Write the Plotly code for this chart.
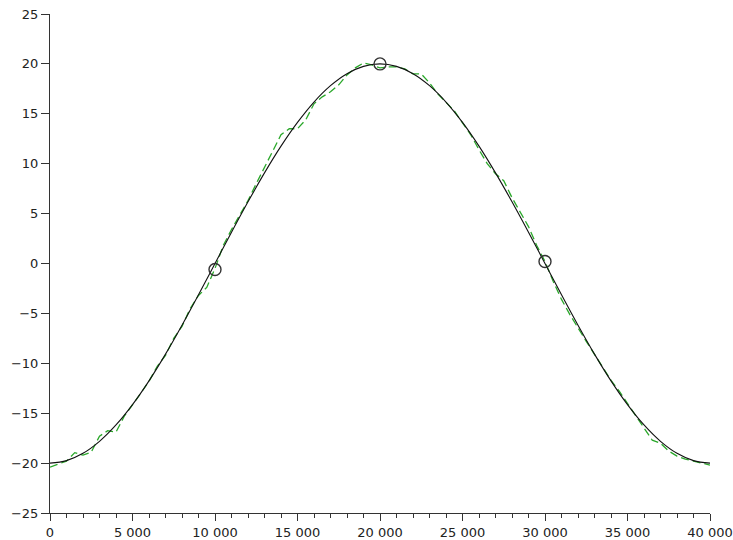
import plotly.graph_objects as go

# Smooth reference curve, sampled every 1000
x_smooth = list(range(0, 40001, 1000))
y_smooth = [-20.0, -19.75, -19.02, -17.82, -16.18, -14.14, -11.76, -9.08, -6.18, -3.13,
            0.0, 3.13, 6.18, 9.08, 11.76, 14.14, 16.18, 17.82, 19.02, 19.75,
            20.0, 19.75, 19.02, 17.82, 16.18, 14.14, 11.76, 9.08, 6.18, 3.13,
            0.0, -3.13, -6.18, -9.08, -11.76, -14.14, -16.18, -17.82, -19.02, -19.75,
            -20.0]

# Measured (noisy) curve, sampled every 500
x_meas = list(range(0, 40001, 500))
y_meas = [-20.4, -20.1, -19.8, -18.95, -19.2, -18.9, -17.3, -16.75, -16.9, -15.3,
          -14.2, -13.0, -11.8, -10.3, -9.2, -7.5, -6.3, -4.5, -3.2, -2.4,
          -0.5, 1.8, 3.4, 4.9, 6.3, 8.0, 9.6, 11.2, 12.9, 13.5,
          13.5, 14.4, 16.0, 16.7, 17.2, 17.9, 18.9, 19.6, 20.1, 19.9,
          19.6, 19.7, 19.7, 19.5, 19.0, 19.0, 18.1, 17.0, 16.1, 15.3,
          14.1, 12.9, 11.4, 10.0, 9.0, 8.3, 6.6, 5.1, 3.7, 1.8,
          0.2, -1.8, -3.6, -5.1, -6.5, -7.8, -9.1, -10.4, -11.7, -12.8,
          -14.0, -15.2, -16.4, -17.7, -18.0, -18.8, -19.3, -19.6, -19.8, -20.0,
          -20.2]

# Sample points marked with circles
x_pts = [10000, 20000, 30000]
y_pts = [-0.6, 20.0, 0.2]

fig = go.Figure()
fig.add_trace(go.Scatter(
    x=x_meas, y=y_meas, mode="lines",
    line=dict(color="#2aa82a", width=1.3, dash="8px,4px"),
    showlegend=False, hoverinfo="skip"))
fig.add_trace(go.Scatter(
    x=x_smooth, y=y_smooth, mode="lines",
    line=dict(color="#111111", width=1.1, shape="spline", smoothing=1.0),
    showlegend=False))
fig.add_trace(go.Scatter(
    x=x_pts, y=y_pts, mode="markers",
    marker=dict(symbol="circle-open", size=12, color="#333333", line=dict(width=1.4)),
    showlegend=False, cliponaxis=False))

axis_font = dict(family="DejaVu Sans", size=13, color="#222222")

fig.update_layout(
    width=733, height=540,
    margin=dict(l=50, r=23, t=14, b=27, autoexpand=False),
    paper_bgcolor="white", plot_bgcolor="white",
    separators=". ",
    xaxis=dict(
        range=[0, 40000], dtick=5000, tick0=0, tickformat=",d",
        automargin=False, ticklabeloverflow="allow",
        showgrid=False, zeroline=False,
        showline=True, linecolor="#333333", linewidth=1,
        ticks="outside", ticklen=7, tickwidth=1, tickcolor="#333333",
        minor=dict(dtick=1000, ticks="outside", ticklen=4, tickcolor="#333333", showgrid=False),
        tickfont=axis_font,
    ),
    yaxis=dict(
        range=[-25, 25], dtick=5, tick0=0,
        automargin=False, ticklabeloverflow="allow",
        showgrid=False, zeroline=False,
        showline=True, linecolor="#333333", linewidth=1,
        ticks="outside", ticklen=8, tickwidth=1, tickcolor="#333333",
        tickfont=axis_font,
    ),
)

fig.write_html("out.html")
